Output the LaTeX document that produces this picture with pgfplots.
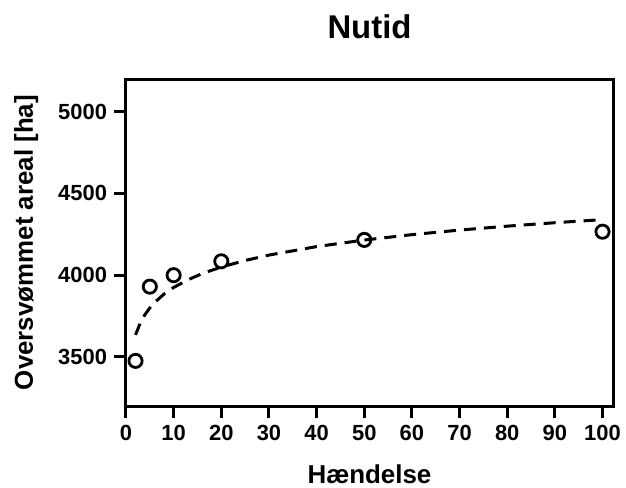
\documentclass[border=0pt]{standalone}
\usepackage{pgfplots}
\pgfplotsset{compat=1.18}
\usepackage{fontspec}
\setmainfont{Liberation Sans}
\begin{document}
\begin{tikzpicture}
\useasboundingbox (-63bp,-41bp) rectangle (250bp,203bp);
\begin{axis}[
  at={(0,0)}, anchor=south west,
  scale only axis,
  width=243.5bp, height=163.5bp,
  xmin=0, xmax=102.2, ymin=3200, ymax=5200,
  xtick={0,10,...,100},
  ytick={3500,4000,4500,5000},
  axis line style={line width=1.5bp, black},
  tick style={line width=1.5bp, black},
  major tick length=6bp,
  tick align=outside,
  xtick pos=bottom, ytick pos=left,
  /pgf/number format/assume math mode=true,
  /pgf/number format/1000 sep={},
  ticklabel style={font=\fontsize{11}{13}\selectfont\bfseries},
  label style={font=\fontsize{13}{15}\selectfont\bfseries},
  xlabel={Hændelse},
  ylabel={Oversvømmet areal [ha]},
  xlabel style={at={(axis description cs:0.5,0)}, anchor=center, yshift=-34bp},
  ylabel style={at={(axis description cs:-0.205,0.5)}, anchor=center},
  title={Nutid},
  title style={font=\fontsize{16.5}{18}\selectfont\bfseries, yshift=10.5bp},
  clip=false,
]
\addplot[black, line width=1.5bp, dash pattern=on 6bp off 4bp] coordinates {
(2,3635) (3,3708) (4,3760) (5,3800) (6,3833) (8,3885) (10,3925) (13,3972)
(16,4010) (20,4050) (25,4090) (30,4123) (40,4175) (50,4215) (60,4248)
(70,4276) (80,4300) (90,4321) (100,4340)
};
\addplot[only marks, mark=o, mark size=3.3bp, mark options={line width=1.4bp, black}] coordinates {
(2,3476) (5,3930) (10,4000) (20,4085) (50,4216) (100,4266)
};
\end{axis}
\end{tikzpicture}
\end{document}
